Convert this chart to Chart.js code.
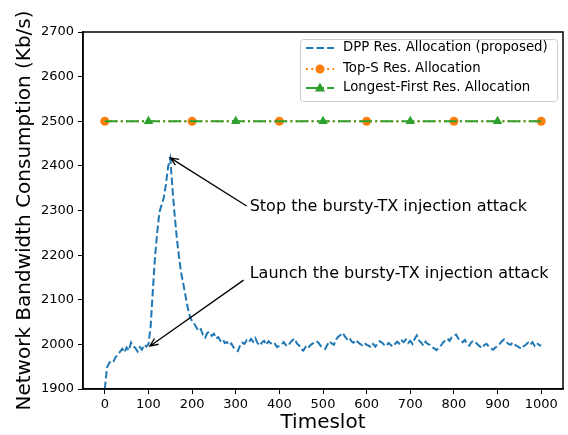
<!DOCTYPE html>
<html>
<head>
<meta charset="utf-8">
<script src="https://cdn.jsdelivr.net/npm/chart.js@4.4.1/dist/chart.umd.min.js"></script>
<style>
    body { margin: 0; background: #fff; }
    canvas { display: block; }
</style>
</head>
<body>
<canvas id="chart" width="568" height="435"></canvas>
<script>
// DPP curve, one value every 5 timeslots (0..1000)
const dppStep = 5;
const dppValues = [
    1900, 1948, 1958, 1964, 1962, 1972, 1976, 1984, 1990, 1982, 1993, 1986, 2004, 1996, 1992, 1984, 1994, 1988, 1999, 1995, 2001,
    2040, 2120, 2195, 2250, 2296, 2312, 2328, 2358, 2398, 2417, 2350, 2290, 2238, 2196, 2160, 2135, 2108, 2082, 2062, 2052,
    2046, 2038, 2030, 2034, 2021, 2015, 2026, 2028, 2019, 2024, 2013, 2016, 2008, 2012, 2003, 2005, 1998, 2002, 1993, 1988,
    1985, 1998, 2004, 2001, 2009, 2005, 2012, 2006, 2014, 2003, 1997, 2004, 2008, 1999, 2007, 2003, 1998, 2001, 1994, 1997,
    2000, 2005, 1998, 1996, 2004, 2009, 2013, 2002, 1998, 1989, 1986, 1994, 1990, 1997, 2001, 2004, 2007, 2003, 1996, 1993,
    1990, 1999, 2007, 2002, 1999, 2011, 2017, 2021, 2026, 2018, 2012, 2016, 2007, 2004, 2010, 2005, 2001, 1998, 2003, 1999,
    1997, 1993, 2001, 1995, 2002, 2007, 2004, 1999, 1996, 2003, 1999, 1995, 2001, 2006, 2002, 2009, 2005, 2011, 2003, 2008,
    2001, 2012, 2020, 2009, 2004, 1997, 2006, 2001, 1999, 1994, 1991, 1987, 1992, 1997, 2004, 2009, 2013, 2008, 2016, 2019,
    2022, 2013, 2011, 2005, 2010, 2002, 1997, 2005, 2008, 2004, 1999, 1995, 1992, 1999, 2001, 1995, 1991, 1988, 1993, 1996,
    2001, 2007, 2011, 2006, 2001, 1999, 2004, 1999, 1996, 1993, 1990, 1996, 1999, 2004, 1999, 2005, 1997, 2003, 1999, 1997
];

const topSX = [0, 200, 400, 600, 800, 1000];
const topSValues = [2500, 2500, 2500, 2500, 2500, 2500];

const longestX = [0, 100, 200, 300, 400, 500, 600, 700, 800, 900, 1000];
const longestValues = [2500, 2500, 2500, 2500, 2500, 2500, 2500, 2500, 2500, 2500, 2500];

const xTicks = [0, 100, 200, 300, 400, 500, 600, 700, 800, 900, 1000];
const seriesNames = ['DPP Res. Allocation (proposed)', 'Top-S Res. Allocation', 'Longest-First Res. Allocation'];

const blue = '#1f77b4';
const orange = '#ff7f0e';
const green = '#2ca02c';

const dashes = {
    dpp: [7.4, 3.2],
    tops: [2, 3.3],
    longest: [12.8, 3.2, 2, 3.2]
};

const notes = [
    { text: 'Stop the bursty-TX injection attack', tx: 332, ty: 2299, fromX: 325, fromY: 2310, toX: 150, toY: 2418 },
    { text: 'Launch the bursty-TX injection attack', tx: 332, ty: 2149, fromX: 318, fromY: 2144, toX: 103, toY: 1996 }
];

function zip(xs, ys) {
    return ys.map((y, i) => ({ x: xs[i], y: y }));
}

let dppData = dppValues.map((v, i) => ({ x: i * dppStep, y: v }));

function drawArrow(ctx, x1, y1, x2, y2) {
    let ang = Math.atan2(y2 - y1, x2 - x1);
    let len = 9;
    ctx.beginPath();
    ctx.moveTo(x1, y1);
    ctx.lineTo(x2, y2);
    ctx.moveTo(x2 - len * Math.cos(ang - 0.4), y2 - len * Math.sin(ang - 0.4));
    ctx.lineTo(x2, y2);
    ctx.lineTo(x2 - len * Math.cos(ang + 0.4), y2 - len * Math.sin(ang + 0.4));
    ctx.stroke();
}

const extras = {
    id: 'extras',
    afterDatasetsDraw(chart) {
        const ctx = chart.ctx;
        const a = chart.chartArea;
        const xs = chart.scales.x;
        const ys = chart.scales.y;
        ctx.save();

        // box round the plot
        ctx.strokeStyle = '#000';
        ctx.lineWidth = 1.5;
        ctx.strokeRect(a.left, a.top, a.right - a.left, a.bottom - a.top);

        // annotations
        ctx.lineWidth = 1.3;
        ctx.strokeStyle = '#000';
        ctx.fillStyle = '#000';
        ctx.font = '16px "DejaVu Sans"';
        ctx.textBaseline = 'alphabetic';
        ctx.textAlign = 'left';
        for (const n of notes) {
            drawArrow(ctx, xs.getPixelForValue(n.fromX), ys.getPixelForValue(n.fromY),
                xs.getPixelForValue(n.toX), ys.getPixelForValue(n.toY));
            ctx.fillText(n.text, xs.getPixelForValue(n.tx), ys.getPixelForValue(n.ty));
        }

        // legend
        let bx = 300, by = 39, bw = 257, bh = 62;
        ctx.fillStyle = 'rgba(255,255,255,0.8)';
        ctx.strokeStyle = '#cccccc';
        ctx.lineWidth = 1;
        ctx.beginPath();
        ctx.roundRect(bx + 0.5, by + 0.5, bw, bh, 3);
        ctx.fill();
        ctx.stroke();

        let rows = [48, 69, 88];
        let colors = [blue, orange, green];
        let dash = [dashes.dpp, dashes.tops, dashes.longest];
        ctx.font = '13.3px "DejaVu Sans"';
        ctx.textBaseline = 'middle';
        for (let i = 0; i < 3; i++) {
            ctx.strokeStyle = colors[i];
            ctx.lineWidth = 2;
            ctx.setLineDash(dash[i]);
            ctx.beginPath();
            ctx.moveTo(306, rows[i]);
            ctx.lineTo(334, rows[i]);
            ctx.stroke();
            ctx.setLineDash([]);
            ctx.fillStyle = colors[i];
            if (i === 1) {
                ctx.beginPath();
                ctx.arc(320, rows[i], 4.5, 0, Math.PI * 2);
                ctx.fill();
            } else if (i === 2) {
                ctx.beginPath();
                ctx.moveTo(320, rows[i] - 5.5);
                ctx.lineTo(325, rows[i] + 3.5);
                ctx.lineTo(315, rows[i] + 3.5);
                ctx.closePath();
                ctx.fill();
            }
            ctx.fillStyle = '#000';
            ctx.fillText(seriesNames[i], 343, rows[i]);
        }
        ctx.restore();
    }
};

Chart.defaults.font.family = '"DejaVu Sans"';
Chart.defaults.color = '#000';

new Chart(document.getElementById('chart'), {
    type: 'line',
    data: {
        datasets: [{
            label: seriesNames[0],
            data: dppData,
            borderColor: blue,
            borderWidth: 2,
            borderDash: dashes.dpp,
            pointRadius: 0,
            tension: 0,
            order: 2
        }, {
            label: seriesNames[1],
            data: zip(topSX, topSValues),
            borderColor: orange,
            backgroundColor: orange,
            borderWidth: 2,
            borderDash: dashes.tops,
            pointRadius: 4.5,
            pointBorderWidth: 0,
            order: 1
        }, {
            label: seriesNames[2],
            data: zip(longestX, longestValues),
            borderColor: green,
            backgroundColor: green,
            borderWidth: 2,
            borderDash: dashes.longest,
            pointStyle: 'triangle',
            pointRadius: ctx => (ctx.dataIndex % 2 === 1 ? 5.5 : 0),
            pointBorderWidth: 0,
            order: 0
        }]
    },
    options: {
        responsive: false,
        animation: false,
        layout: { padding: { top: 32, right: 5, left: 0, bottom: 0 } },
        plugins: {
            legend: { display: false },
            tooltip: { enabled: false }
        },
        scales: {
            x: {
                type: 'linear',
                min: -50,
                max: 1050,
                afterFit: s => { s.height = 46; },
                afterBuildTicks: s => { s.ticks = xTicks.map(v => ({ value: v })); },
                grid: { drawOnChartArea: false, drawTicks: true, tickLength: 5, color: '#000' },
                border: { display: true, color: '#000', width: 1.5 },
                ticks: { font: { size: 13 }, padding: 3, maxRotation: 0, callback: v => String(v) },
                title: { display: true, text: 'Timeslot', font: { size: 20 }, padding: 0 }
            },
            y: {
                min: 1900,
                max: 2700,
                afterFit: s => { s.width = 83; },
                grid: { drawOnChartArea: false, drawTicks: true, tickLength: 5, color: '#000' },
                border: { display: true, color: '#000', width: 1.5 },
                ticks: { stepSize: 100, font: { size: 13 }, padding: 4, callback: v => String(v) },
                title: { display: true, text: 'Network Bandwidth Consumption (Kb/s)', font: { size: 20 }, padding: { top: 13, bottom: 0 } }
            }
        }
    },
    plugins: [extras]
});
</script>
</body>
</html>
